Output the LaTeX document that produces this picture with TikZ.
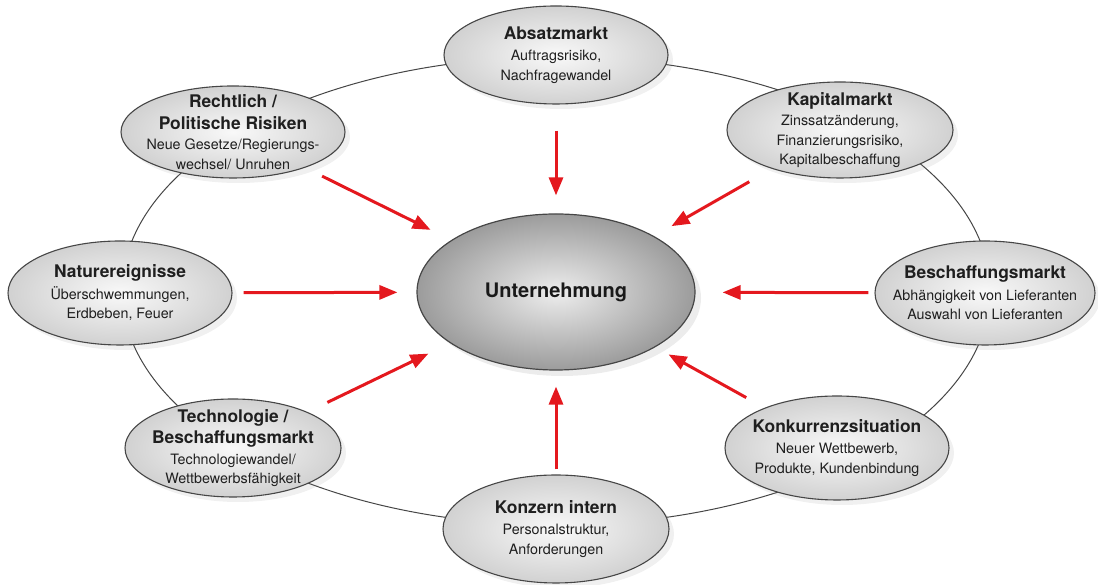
\documentclass[tikz,border=0pt]{standalone}
\usepackage{fontspec}
\setmainfont{TeX Gyre Heros}
\usepackage{tikz}
\usetikzlibrary{shapes.geometric}
\usetikzlibrary{arrows.meta}
\usetikzlibrary{shadows}

\definecolor{pfeilrot}{RGB}{228,24,30}
\definecolor{randgrau}{RGB}{70,70,70}
\newcommand{\titel}[1]{{\fontsize{17.4}{19.5}\selectfont\bfseries #1}}

\tikzset{
  risiko/.style={ellipse, draw=randgrau, line width=1.1pt, inner sep=0pt,
    inner color=gray!5, outer color=gray!36,
    drop shadow={opacity=0.12, shadow xshift=5pt, shadow yshift=-5pt}},
  kern/.style={ellipse, draw=randgrau, line width=1.2pt, inner sep=0pt,
    inner color=gray!14, outer color=gray!78,
    drop shadow={opacity=0.15, shadow xshift=6pt, shadow yshift=-6pt}},
  risikotext/.style={align=center, font=\fontsize{14.3}{19.5}\selectfont, text=black!88},
  pfeil/.style={draw=pfeilrot, line width=3pt, -{Triangle[length=18pt, width=14pt]}}
}

\begin{document}
\begin{tikzpicture}[x=1pt, y=1pt]
  \useasboundingbox (0,0) rectangle (1098,585);
  % Ring
  \draw[randgrau, line width=1pt] (556,294) ellipse [x radius=434pt, y radius=234pt];

  \node[risiko, minimum width=224pt, minimum height=98pt] (absatz) at (556,530) {};
  \node[risikotext] at (absatz) {\titel{Absatzmarkt}\\[2pt] Auftragsrisiko,\\ Nachfragewandel};
  \node[risiko, minimum width=226pt, minimum height=96pt] (kapital) at (840,455) {};
  \node[risikotext] at (kapital) {\titel{Kapitalmarkt}\\[1pt] Zinssatzänderung,\\ Finanzierungsrisiko,\\ Kapitalbeschaffung};
  \node[risiko, minimum width=220pt, minimum height=104pt] (beschaffung) at (985,292) {};
  \node[risikotext] at (beschaffung) {\titel{Beschaffungsmarkt}\\[2pt] Abhängigkeit von Lieferanten\\ Auswahl von Lieferanten};
  \node[risiko, minimum width=224pt, minimum height=104pt] (konkurrenz) at (837,137) {};
  \node[risikotext] at (konkurrenz) {\titel{Konkurrenzsituation}\\[2pt] Neuer Wettbewerb,\\ Produkte, Kundenbindung};
  \node[risiko, minimum width=226pt, minimum height=108pt] (konzern) at (556,56) {};
  \node[risikotext] at (konzern) {\titel{Konzern intern}\\[2pt] Personalstruktur,\\ Anforderungen};
  \node[risiko, minimum width=216pt, minimum height=98pt] (technologie) at (233,137) {};
  \node[risikotext] at (technologie) {\titel{Technologie /}\\[2pt] \titel{Beschaffungsmarkt}\\[1pt] Technologiewandel/\\ Wettbewerbsfähigkeit};
  \node[risiko, minimum width=224pt, minimum height=104pt] (natur) at (120,292) {};
  \node[risikotext] at (natur) {\titel{Naturereignisse}\\[2pt] Überschwemmungen,\\ Erdbeben, Feuer};
  \node[risiko, minimum width=224pt, minimum height=92pt] (recht) at (233,453) {};
  \node[risikotext] at (recht) {\titel{Rechtlich /}\\[2pt] \titel{Politische Risiken}\\[1pt] Neue Gesetze/Regierungs-\\ wechsel/ Unruhen};

  % Mitte
  \node[kern, minimum width=278pt, minimum height=156pt] (unternehmung) at (556,293) {};
  \node[font=\fontsize{20}{24}\selectfont\bfseries, text=black!90] at (unternehmung) {Unternehmung};

  % Pfeile
  \draw[pfeil, shorten <=26pt, shorten >=18pt] (absatz) -- (unternehmung);
  \draw[pfeil, shorten <=26pt, shorten >=20pt] (kapital) -- (unternehmung);
  \draw[pfeil, shorten <=6pt, shorten >=27pt] (beschaffung) -- (unternehmung);
  \draw[pfeil, shorten <=21pt, shorten >=15pt] (konkurrenz) -- (unternehmung);
  \draw[pfeil, shorten <=5pt, shorten >=16pt] (konzern) -- (unternehmung);
  \draw[pfeil, shorten <=22pt, shorten >=24pt] (technologie) -- (unternehmung);
  \draw[pfeil, shorten <=11pt, shorten >=19pt] (natur) -- (unternehmung);
  \draw[pfeil, shorten <=19pt, shorten >=23pt] (recht) -- (unternehmung);
\end{tikzpicture}
\end{document}
